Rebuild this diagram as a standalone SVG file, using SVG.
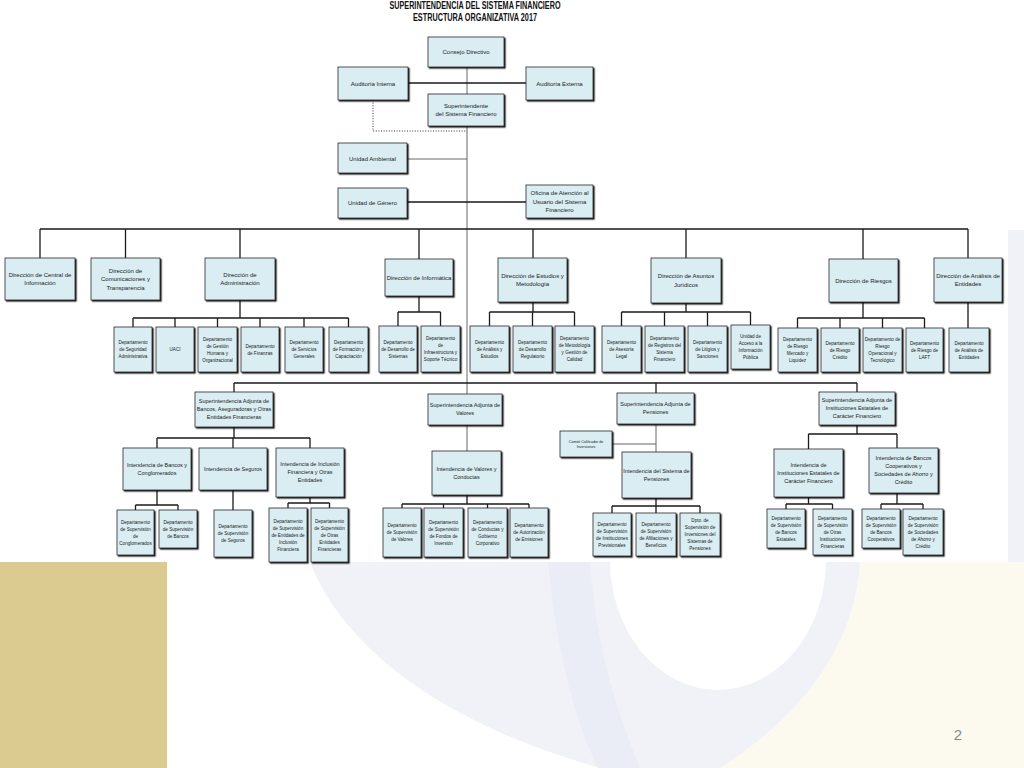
<svg xmlns="http://www.w3.org/2000/svg" width="1024" height="768" viewBox="0 0 1024 768">
<defs>
<filter id="sh" x="-10%" y="-10%" width="130%" height="130%"><feDropShadow dx="1.3" dy="1.3" stdDeviation="0.2" flood-color="#000" flood-opacity="0.9"/></filter>
<style>
.bx{fill:#d9edf3;stroke:#2a2a2a;stroke-width:0.8;filter:url(#sh)}
.t{font-family:"Liberation Sans",Arial,sans-serif;font-size:6px;fill:#1a1a1a;text-anchor:middle}
.m{font-size:5.5px}
.s{font-size:4.6px}
.xs{font-size:3.6px}
.ttl{font-family:"Liberation Sans",Arial,sans-serif;font-size:10px;font-weight:bold;fill:#111;text-anchor:middle}
.ln{stroke:#1a1a1a;stroke-width:1.3;fill:none}
.tr{stroke:#555;stroke-width:0.9;fill:none}
.dt{stroke:#333;stroke-width:1;stroke-dasharray:1 1.6;fill:none}
</style>
</defs>
<g id="background">
<rect width="1024" height="768" fill="#ffffff"/>
<path d="M1024,230 L1024,768 L600,768 C430,720 340,640 310,562 L300,230 Z" fill="#f0f2f8"/>
<path d="M860,562 L1024,562 L1024,768 L720,768 C810,710 855,640 860,562 Z" fill="#fcf9ef"/>
<path d="M548,562 C556,650 575,720 598,768 L640,768 C612,700 596,640 590,562 Z" fill="#eaedf6"/>
<ellipse cx="718" cy="560" rx="108" ry="130" fill="#ffffff"/>
<rect x="0" y="562" width="167" height="206" fill="#dbcb91"/>
<rect x="0" y="0" width="1008" height="562" fill="#ffffff"/>
<text x="958" y="740" font-family="'Liberation Sans',Arial,sans-serif" font-size="15" fill="#8a8a8a" text-anchor="middle">2</text>
</g>
<g id="title">
<text class="ttl" x="475" y="9" textLength="171" lengthAdjust="spacingAndGlyphs">SUPERINTENDENCIA DEL SISTEMA FINANCIERO</text>
<text class="ttl" x="475" y="21" textLength="124" lengthAdjust="spacingAndGlyphs">ESTRUCTURA ORGANIZATIVA 2017</text>
</g>
<g id="connectors">
<path class="tr" d="M467,67 V394 M407,159 H467 M467,425 V451 M656,424 V452 M612,444 H656"/>
<path class="ln" d="M408,83 H526 M407,202 H526"/>
<path class="dt" d="M373,100 V131 H467"/>
<path class="ln" d="M40,229 H968 M40,229 V258 M125.5,229 V258 M240,229 V258 M419,229 V259 M533,229 V258 M686,229 V258 M863,229 V259 M968,229 V258"/>
<path class="ln" d="M240,300 V318 M133,318 H348.5 M133,318 V327 M175,318 V327 M217.5,318 V327 M260,318 V327 M304,318 V327 M348.5,318 V327"/>
<path class="ln" d="M419,296 V312 M398,312 H440.5 M398,312 V326 M440.5,312 V326"/>
<path class="ln" d="M533,302 V312 M489.5,312 H574.5 M489.5,312 V326 M532.5,312 V326 M574.5,312 V326"/>
<path class="ln" d="M686,303 V312 M621.5,312 H750.5 M621.5,312 V326 M664.5,312 V326 M707.5,312 V326 M750.5,312 V325"/>
<path class="ln" d="M863,302 V318 M797.5,318 H924.5 M797.5,318 V328 M840,318 V328 M882.5,318 V328 M924.5,318 V328"/>
<path class="ln" d="M968,302 V328"/>
<path class="ln" d="M234,383 H857 M234,383 V392 M656,383 V393 M857,383 V392"/>
<path class="ln" d="M234,427 V438 M157,438 H310 M157,438 V448 M233,438 V448 M310,438 V448"/>
<path class="ln" d="M157,490 V505 M135.5,505 H178 M135.5,505 V510 M178,505 V510 M233,490 V510 M310,497 V503 M288,503 H329.5 M288,503 V508 M329.5,503 V508"/>
<path class="ln" d="M467,495 V504 M402,504 H529 M402,504 V508 M443.5,504 V508 M487.5,504 V508 M529,504 V508"/>
<path class="ln" d="M656,498 V506 M612,506 H700 M612,506 V513 M656,506 V513 M700,506 V513"/>
<path class="ln" d="M857,425 V434 M808.5,434 H897 M808.5,434 V449 M897,434 V448"/>
<path class="ln" d="M808.5,497 V504 M786,504 H832.5 M786,504 V509 M832.5,504 V509 M897,493 V504 M881,504 H923 M881,504 V509 M923,504 V509"/>
</g>
<g id="n-consejo"><rect class="bx" x="428" y="37" width="76" height="30"/><text class="t" x="466" y="54.1">Consejo Directivo</text></g>
<g id="n-auditoria-interna"><rect class="bx" x="338" y="67" width="70" height="33"/><text class="t" x="373" y="85.6">Auditoría Interna</text></g>
<g id="n-auditoria-externa"><rect class="bx" x="526" y="67" width="67" height="33"/><text class="t" x="559.5" y="85.6">Auditoría Externa</text></g>
<g id="n-superintendente"><rect class="bx" x="428" y="94" width="76" height="32"/><text class="t" x="466" y="107.9">Superintendente<tspan x="466" y="116.4">del Sistema Financiero</tspan></text></g>
<g id="n-unidad-ambiental"><rect class="bx" x="338" y="143" width="69" height="30"/><text class="t" x="372.5" y="161">Unidad Ambiental</text></g>
<g id="n-unidad-genero"><rect class="bx" x="338" y="188" width="69" height="30"/><text class="t" x="372.5" y="205.1">Unidad de Género</text></g>
<g id="n-oficina"><rect class="bx" x="526" y="185" width="67" height="33"/><text class="t" x="559.5" y="195.1">Oficina de Atención al<tspan x="559.5" y="203.6">Usuario del Sistema</tspan><tspan x="559.5" y="212.1">Financiero</tspan></text></g>
<g id="n-d-central"><rect class="bx" x="5" y="258" width="70" height="42"/><text class="t" x="40" y="276.9">Dirección de Central de<tspan x="40" y="285.4">Información</tspan></text></g>
<g id="n-d-comunicaciones"><rect class="bx" x="91" y="258" width="69" height="42"/><text class="t" x="125.5" y="272.6">Dirección de<tspan x="125.5" y="281.1">Comunicaciones y</tspan><tspan x="125.5" y="289.6">Transparencia</tspan></text></g>
<g id="n-d-administracion"><rect class="bx" x="205" y="258" width="70" height="42"/><text class="t" x="240" y="276.9">Dirección de<tspan x="240" y="285.4">Administración</tspan></text></g>
<g id="n-d-informatica"><rect class="bx" x="385" y="259" width="68" height="37"/><text class="t" x="419" y="279.6">Dirección de Informática</text></g>
<g id="n-d-estudios"><rect class="bx" x="498" y="258" width="69" height="44"/><text class="t" x="532.5" y="277.9">Dirección de Estudios y<tspan x="532.5" y="286.4">Metodología</tspan></text></g>
<g id="n-d-juridicos"><rect class="bx" x="651" y="258" width="70" height="45"/><text class="t" x="686" y="278.4">Dirección de Asuntos<tspan x="686" y="286.9">Jurídicos</tspan></text></g>
<g id="n-d-riesgos"><rect class="bx" x="829" y="259" width="69" height="43"/><text class="t" x="863.5" y="282.6">Dirección de Riesgos</text></g>
<g id="n-d-analisis"><rect class="bx" x="934" y="258" width="68" height="44"/><text class="t" x="968" y="277.9">Dirección de Análisis de<tspan x="968" y="286.4">Entidades</tspan></text></g>
<g id="n-dep-seguridad"><rect class="bx" x="114" y="327" width="38" height="45"/><text class="t s" x="133" y="344.1">Departamento<tspan x="133" y="351.1">de Seguridad</tspan><tspan x="133" y="358.1">Administrativa</tspan></text></g>
<g id="n-uaci"><rect class="bx" x="156" y="327" width="38" height="45"/><text class="t s" x="175" y="351.1">UACI</text></g>
<g id="n-dep-gestion-humana"><rect class="bx" x="198" y="327" width="39" height="45"/><text class="t s" x="217.5" y="340.6">Departamento<tspan x="217.5" y="347.6">de Gestión</tspan><tspan x="217.5" y="354.6">Humana y</tspan><tspan x="217.5" y="361.6">Organizacional</tspan></text></g>
<g id="n-dep-finanzas"><rect class="bx" x="241" y="327" width="38" height="45"/><text class="t s" x="260" y="347.6">Departamento<tspan x="260" y="354.6">de Finanzas</tspan></text></g>
<g id="n-dep-servicios"><rect class="bx" x="285" y="327" width="38" height="45"/><text class="t s" x="304" y="344.1">Departamento<tspan x="304" y="351.1">de Servicios</tspan><tspan x="304" y="358.1">Generales</tspan></text></g>
<g id="n-dep-formacion"><rect class="bx" x="329" y="327" width="39" height="45"/><text class="t s" x="348.5" y="344.1">Departamento<tspan x="348.5" y="351.1">de Formación y</tspan><tspan x="348.5" y="358.1">Capacitación</tspan></text></g>
<g id="n-dep-desarrollo-sistemas"><rect class="bx" x="379" y="326" width="38" height="46"/><text class="t s" x="398" y="343.6">Departamento<tspan x="398" y="350.6">de Desarrollo de</tspan><tspan x="398" y="357.6">Sistemas</tspan></text></g>
<g id="n-dep-infraestructura"><rect class="bx" x="421" y="326" width="39" height="46"/><text class="t s" x="440.5" y="340.1">Departamento<tspan x="440.5" y="347.1">de</tspan><tspan x="440.5" y="354.1">Infraestructura y</tspan><tspan x="440.5" y="361.1">Soporte Técnico</tspan></text></g>
<g id="n-dep-analisis-estudios"><rect class="bx" x="470" y="326" width="39" height="46"/><text class="t s" x="489.5" y="343.6">Departamento<tspan x="489.5" y="350.6">de  Análisis y</tspan><tspan x="489.5" y="357.6">Estudios</tspan></text></g>
<g id="n-dep-desarrollo-regulatorio"><rect class="bx" x="513" y="326" width="39" height="46"/><text class="t s" x="532.5" y="343.6">Departamento<tspan x="532.5" y="350.6">de Desarrollo</tspan><tspan x="532.5" y="357.6">Regulatorio</tspan></text></g>
<g id="n-dep-metodologia"><rect class="bx" x="555" y="326" width="39" height="46"/><text class="t s" x="574.5" y="340.1">Departamento<tspan x="574.5" y="347.1">de Metodología</tspan><tspan x="574.5" y="354.1">y Gestión de</tspan><tspan x="574.5" y="361.1">Calidad</tspan></text></g>
<g id="n-dep-asesoria"><rect class="bx" x="602" y="326" width="39" height="46"/><text class="t s" x="621.5" y="343.6">Departamento<tspan x="621.5" y="350.6">de Asesoría</tspan><tspan x="621.5" y="357.6">Legal</tspan></text></g>
<g id="n-dep-registros"><rect class="bx" x="645" y="326" width="39" height="46"/><text class="t s" x="664.5" y="340.1">Departamento<tspan x="664.5" y="347.1">de Registros del</tspan><tspan x="664.5" y="354.1">Sistema</tspan><tspan x="664.5" y="361.1">Financiero</tspan></text></g>
<g id="n-dep-litigios"><rect class="bx" x="688" y="326" width="39" height="46"/><text class="t s" x="707.5" y="343.6">Departamento<tspan x="707.5" y="350.6">de Litigios y</tspan><tspan x="707.5" y="357.6">Sanciones</tspan></text></g>
<g id="n-unidad-acceso"><rect class="bx" x="731" y="325" width="39" height="44"/><text class="t s" x="750.5" y="338.1">Unidad de<tspan x="750.5" y="345.1">Acceso a la</tspan><tspan x="750.5" y="352.1">Información</tspan><tspan x="750.5" y="359.1">Pública</tspan></text></g>
<g id="n-dep-riesgo-mercado"><rect class="bx" x="778" y="328" width="39" height="44"/><text class="t s" x="797.5" y="341.1">Departamento<tspan x="797.5" y="348.1">de Riesgo</tspan><tspan x="797.5" y="355.1">Mercado y</tspan><tspan x="797.5" y="362.1">Liquidez</tspan></text></g>
<g id="n-dep-riesgo-credito"><rect class="bx" x="821" y="328" width="38" height="44"/><text class="t s" x="840" y="344.6">Departamento<tspan x="840" y="351.6">de Riesgo</tspan><tspan x="840" y="358.6">Crédito</tspan></text></g>
<g id="n-dep-riesgo-operacional"><rect class="bx" x="863" y="328" width="39" height="44"/><text class="t s" x="882.5" y="341.1">Departamento de<tspan x="882.5" y="348.1">Riesgo</tspan><tspan x="882.5" y="355.1">Operacional y</tspan><tspan x="882.5" y="362.1">Tecnológico</tspan></text></g>
<g id="n-dep-riesgo-laft"><rect class="bx" x="906" y="328" width="37" height="44"/><text class="t s" x="924.5" y="344.6">Departamento<tspan x="924.5" y="351.6">de Riesgo de</tspan><tspan x="924.5" y="358.6">LAFT</tspan></text></g>
<g id="n-dep-analisis-entidades"><rect class="bx" x="949" y="328" width="40" height="44"/><text class="t s" x="969" y="344.6">Departamento<tspan x="969" y="351.6">de Análisis de</tspan><tspan x="969" y="358.6">Entidades</tspan></text></g>
<g id="n-sa-bancos"><rect class="bx" x="195" y="392" width="78" height="35"/><text class="t m" x="234" y="403.4">Superintendencia Adjunta de<tspan x="234" y="411.4">Bancos, Aseguradoras y Otras</tspan><tspan x="234" y="419.4">Entidades Financieras</tspan></text></g>
<g id="n-i-bancos"><rect class="bx" x="123" y="448" width="68" height="42"/><text class="t m" x="157" y="466.9">Intendencia de Bancos y<tspan x="157" y="474.9">Conglomerados</tspan></text></g>
<g id="n-i-seguros"><rect class="bx" x="199" y="448" width="68" height="42"/><text class="t m" x="233" y="470.9">Intendencia de Seguros</text></g>
<g id="n-i-inclusion"><rect class="bx" x="276" y="448" width="68" height="49"/><text class="t m" x="310" y="466.4">Intendencia de Inclusión<tspan x="310" y="474.4">Financiera  y Otras</tspan><tspan x="310" y="482.4">Entidades</tspan></text></g>
<g id="n-dep-sup-conglomerados"><rect class="bx" x="117" y="510" width="37" height="45"/><text class="t s" x="135.5" y="523.6">Departamento<tspan x="135.5" y="530.6">de Supervisión</tspan><tspan x="135.5" y="537.6">de</tspan><tspan x="135.5" y="544.6">Conglomerados</tspan></text></g>
<g id="n-dep-sup-bancos"><rect class="bx" x="159" y="510" width="38" height="38"/><text class="t s" x="178" y="523.6">Departamento<tspan x="178" y="530.6">de Supervisión</tspan><tspan x="178" y="537.6">de Bancos</tspan></text></g>
<g id="n-dep-sup-seguros"><rect class="bx" x="214" y="510" width="38" height="47"/><text class="t s" x="233" y="528.1">Departamento<tspan x="233" y="535.1">de Supervisión</tspan><tspan x="233" y="542.1">de Seguros</tspan></text></g>
<g id="n-dep-sup-inclusion"><rect class="bx" x="269" y="508" width="38" height="54"/><text class="t s" x="288" y="522.6">Departamento<tspan x="288" y="529.6">de Supervisión</tspan><tspan x="288" y="536.6">de Entidades de</tspan><tspan x="288" y="543.6">Inclusión</tspan><tspan x="288" y="550.6">Financiera</tspan></text></g>
<g id="n-dep-sup-otras-entidades"><rect class="bx" x="311" y="508" width="37" height="54"/><text class="t s" x="329.5" y="522.6">Departamento<tspan x="329.5" y="529.6">de Supervisión</tspan><tspan x="329.5" y="536.6">de Otras</tspan><tspan x="329.5" y="543.6">Entidades</tspan><tspan x="329.5" y="550.6">Financieras</tspan></text></g>
<g id="n-sa-valores"><rect class="bx" x="428" y="394" width="74" height="31"/><text class="t m" x="465" y="407.4">Superintendencia Adjunta de<tspan x="465" y="415.4">Valores</tspan></text></g>
<g id="n-i-valores"><rect class="bx" x="432" y="451" width="69" height="44"/><text class="t m" x="466.5" y="470.9">Intendencia de Valores y<tspan x="466.5" y="478.9">Conductas</tspan></text></g>
<g id="n-dep-sup-valores"><rect class="bx" x="383" y="508" width="38" height="49"/><text class="t s" x="402" y="527.1">Departamento<tspan x="402" y="534.1">de Supervisión</tspan><tspan x="402" y="541.1">de Valores</tspan></text></g>
<g id="n-dep-sup-fondos"><rect class="bx" x="424" y="508" width="39" height="49"/><text class="t s" x="443.5" y="523.6">Departamento<tspan x="443.5" y="530.6">de  Supervisión</tspan><tspan x="443.5" y="537.6">de Fondos de</tspan><tspan x="443.5" y="544.6">Inversión</tspan></text></g>
<g id="n-dep-conductas"><rect class="bx" x="468" y="508" width="39" height="49"/><text class="t s" x="487.5" y="523.6">Departamento<tspan x="487.5" y="530.6">de  Conductas y</tspan><tspan x="487.5" y="537.6">Gobierno</tspan><tspan x="487.5" y="544.6">Corporativo</tspan></text></g>
<g id="n-dep-emisiones"><rect class="bx" x="510" y="508" width="38" height="49"/><text class="t s" x="529" y="527.1">Departamento<tspan x="529" y="534.1">de  Autorización</tspan><tspan x="529" y="541.1">de Emisiones</tspan></text></g>
<g id="n-sa-pensiones"><rect class="bx" x="617" y="393" width="77" height="31"/><text class="t m" x="655.5" y="406.4">Superintendencia Adjunta de<tspan x="655.5" y="414.4">Pensiones</tspan></text></g>
<g id="n-comite"><rect class="bx" x="560" y="431" width="52" height="26"/><text class="t xs" x="586" y="442.8">Comité Calificador de<tspan x="586" y="447.8">Inversiones</tspan></text></g>
<g id="n-i-pensiones"><rect class="bx" x="622" y="452" width="69" height="46"/><text class="t m" x="656.5" y="472.9">Intendencia del Sistema de<tspan x="656.5" y="480.9">Pensiones</tspan></text></g>
<g id="n-dep-sup-previsionales"><rect class="bx" x="593" y="513" width="38" height="43"/><text class="t s" x="612" y="525.6">Departamento<tspan x="612" y="532.6">de Supervisión</tspan><tspan x="612" y="539.6">de Instituciones</tspan><tspan x="612" y="546.6">Previsionales</tspan></text></g>
<g id="n-dep-sup-afiliaciones"><rect class="bx" x="636" y="513" width="40" height="43"/><text class="t s" x="656" y="525.6">Departamento<tspan x="656" y="532.6">de Supervisión</tspan><tspan x="656" y="539.6">de Afiliaciones y</tspan><tspan x="656" y="546.6">Beneficios</tspan></text></g>
<g id="n-dpto-inversiones"><rect class="bx" x="680" y="513" width="40" height="43"/><text class="t s" x="700" y="522.1">Dpto. de<tspan x="700" y="529.1">Supervisión de</tspan><tspan x="700" y="536.1">Inversiones del</tspan><tspan x="700" y="543.1">Sistemas de</tspan><tspan x="700" y="550.1">Pensiones</tspan></text></g>
<g id="n-sa-estatales"><rect class="bx" x="819" y="392" width="76" height="33"/><text class="t m" x="857" y="402.4">Superintendencia Adjunta de<tspan x="857" y="410.4">Instituciones Estatales de</tspan><tspan x="857" y="418.4">Carácter Financiero</tspan></text></g>
<g id="n-i-estatales"><rect class="bx" x="774" y="449" width="69" height="48"/><text class="t m" x="808.5" y="466.9">Intendencia de<tspan x="808.5" y="474.9">Instituciones Estatales de</tspan><tspan x="808.5" y="482.9">Carácter Financiero</tspan></text></g>
<g id="n-i-cooperativos"><rect class="bx" x="869" y="448" width="69" height="45"/><text class="t m" x="903.5" y="460.4">Intendencia de Bancos<tspan x="903.5" y="468.4">Cooperativos  y</tspan><tspan x="903.5" y="476.4">Sociedades de Ahorro y</tspan><tspan x="903.5" y="484.4">Crédito</tspan></text></g>
<g id="n-dep-sup-bancos-estatales"><rect class="bx" x="767" y="509" width="38" height="39"/><text class="t s" x="786" y="519.6">Departamento<tspan x="786" y="526.6">de Supervisión</tspan><tspan x="786" y="533.6">de Bancos</tspan><tspan x="786" y="540.6">Estatales</tspan></text></g>
<g id="n-dep-sup-otras-instituciones"><rect class="bx" x="813" y="509" width="39" height="46"/><text class="t s" x="832.5" y="519.6">Departamento<tspan x="832.5" y="526.6">de Supervisión</tspan><tspan x="832.5" y="533.6">de Otras</tspan><tspan x="832.5" y="540.6">Instituciones</tspan><tspan x="832.5" y="547.6">Financieras</tspan></text></g>
<g id="n-dep-sup-bancos-cooperativos"><rect class="bx" x="862" y="509" width="38" height="39"/><text class="t s" x="881" y="519.6">Departamento<tspan x="881" y="526.6">de Supervisión</tspan><tspan x="881" y="533.6">de Bancos</tspan><tspan x="881" y="540.6">Cooperativos</tspan></text></g>
<g id="n-dep-sup-sociedades"><rect class="bx" x="903" y="509" width="40" height="46"/><text class="t s" x="923" y="519.6">Departamento<tspan x="923" y="526.6">de Supervisión</tspan><tspan x="923" y="533.6">de Sociedades</tspan><tspan x="923" y="540.6">de Ahorro y</tspan><tspan x="923" y="547.6">Crédito</tspan></text></g>
</svg>
